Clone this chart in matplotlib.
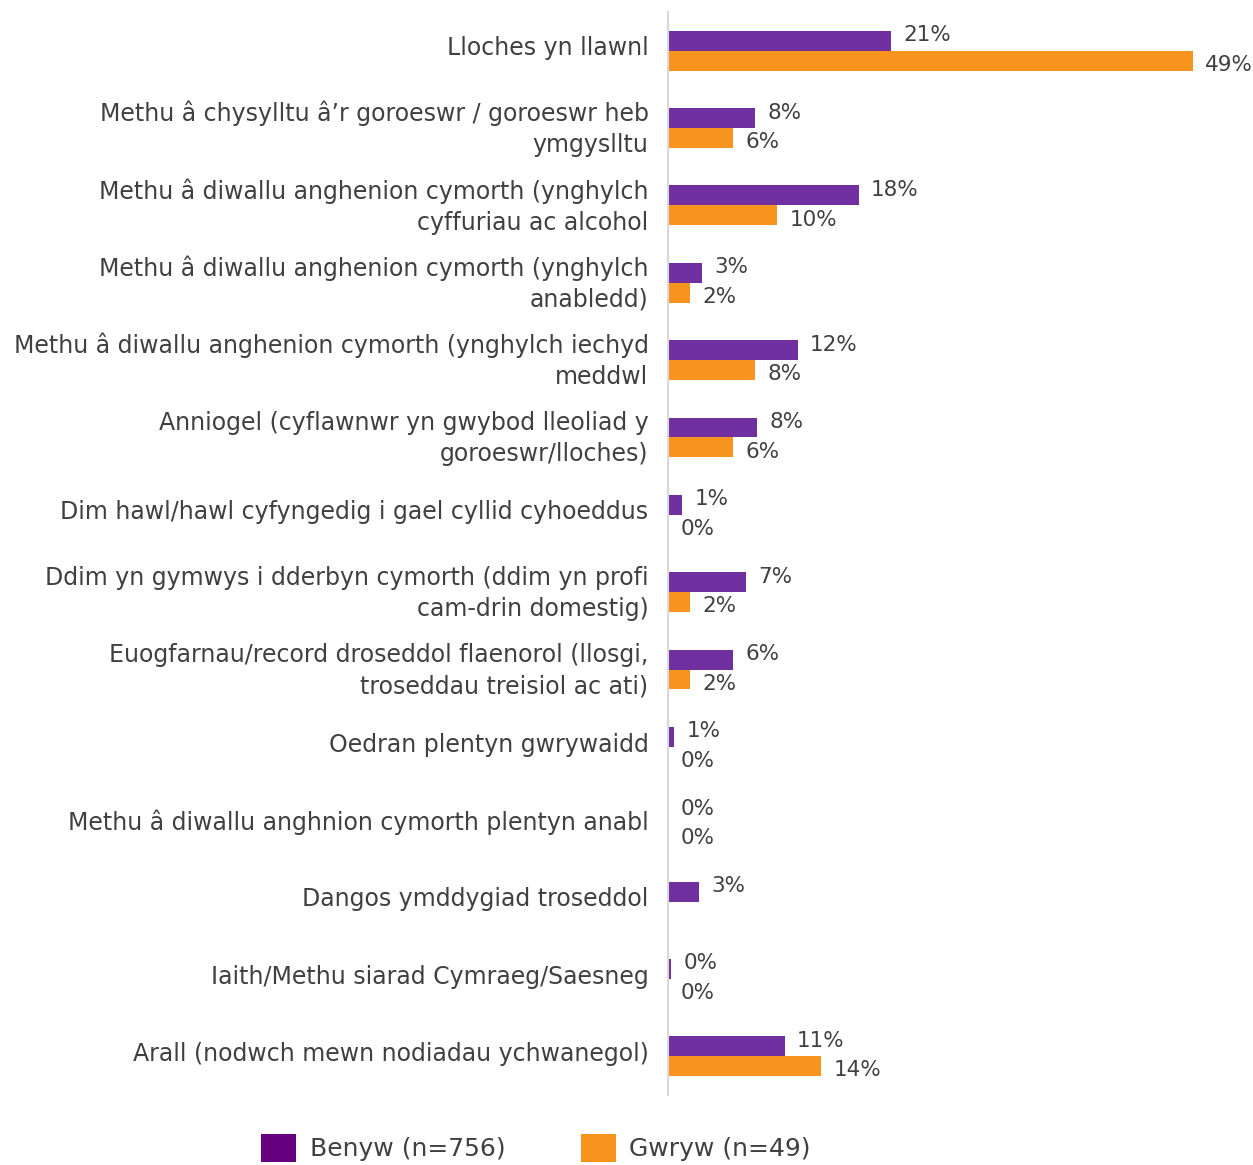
import numpy as np
import matplotlib
matplotlib.use("Agg")
import matplotlib.pyplot as plt
import matplotlib.transforms as mtransforms
from matplotlib.patches import Patch

categories = [
    "Lloches yn llawnl",
    "Methu â chysylltu â’r goroeswr / goroeswr heb\nymgyslltu",
    "Methu â diwallu anghenion cymorth (ynghylch\ncyffuriau ac alcohol",
    "Methu â diwallu anghenion cymorth (ynghylch\nanabledd)",
    "Methu â diwallu anghenion cymorth (ynghylch iechyd\nmeddwl",
    "Anniogel (cyflawnwr yn gwybod lleoliad y\ngoroeswr/lloches)",
    "Dim hawl/hawl cyfyngedig i gael cyllid cyhoeddus",
    "Ddim yn gymwys i dderbyn cymorth (ddim yn profi\ncam-drin domestig)",
    "Euogfarnau/record droseddol flaenorol (llosgi,\ntroseddau treisiol ac ati)",
    "Oedran plentyn gwrywaidd",
    "Methu â diwallu anghnion cymorth plentyn anabl",
    "Dangos ymddygiad troseddol",
    "Iaith/Methu siarad Cymraeg/Saesneg",
    "Arall (nodwch mewn nodiadau ychwanegol)",
]
benyw = [20.8, 8.1, 17.8, 3.2, 12.1, 8.3, 1.3, 7.3, 6.1, 0.6, 0.0, 2.9, 0.3, 10.9]
gwryw = [49.0, 6.1, 10.2, 2.05, 8.1, 6.1, 0.0, 2.05, 2.05, 0.0, 0.0, np.nan, 0.0, 14.3]
series_names = ["Benyw (n=756)", "Gwryw (n=49)"]

purple = "#7030A0"
purple_leg = "#660080"
orange = "#F7941D"
text_c = "#404040"

plt.rcParams['font.family'] = ['DejaVu Sans']

W, H = 1253, 1165
fig = plt.figure(figsize=(W / 100, H / 100), dpi=100)
ax_l, ax_r, ax_t, ax_b = 668, 1230, 12, 1095
ax = fig.add_axes([ax_l / W, 1 - ax_b / H, (ax_r - ax_l) / W, (ax_b - ax_t) / H])

n = len(categories)
y = np.arange(n)
bh = 0.258
ax.barh(y - bh / 2, benyw, height=bh, color=purple, label=series_names[0])
ax.barh(y + bh / 2, gwryw, height=bh, color=orange, label=series_names[1])

ax.set_xlim(0, 52.5)
ax.set_ylim(n - 0.5, -0.5)

for vals, off, dy in ((benyw, -bh / 2, 4), (gwryw, bh / 2, -3)):
    for yi, v in zip(y, vals):
        if v is None or np.isnan(v):
            continue
        ax.annotate(f"{round(v)}%", xy=(v, yi + off), xytext=(9, dy),
                    textcoords="offset points", va="center", ha="left",
                    fontsize=15.5, color=text_c)

ax.set_yticks(y)
ax.set_yticklabels(categories, fontsize=17, color=text_c, linespacing=1.36)
ax.tick_params(axis='y', length=0, pad=14)
shift = mtransforms.ScaledTranslation(0, 3.5 / 72, fig.dpi_scale_trans)
for lab in ax.get_yticklabels():
    lab.set_transform(lab.get_transform() + shift)
ax.set_xticks([])
for s in ("top", "right", "bottom"):
    ax.spines[s].set_visible(False)
ax.spines["left"].set_color("#D9D9D9")
ax.spines["left"].set_linewidth(1.5)

handles = [Patch(facecolor=purple_leg, label=series_names[0]),
           Patch(facecolor=orange, label=series_names[1])]
fig.legend(handles=handles, loc="center", bbox_to_anchor=(536 / W, 1 - 1148 / H),
           ncol=2, frameon=False, fontsize=18, handlelength=1.4, handleheight=1.4,
           columnspacing=3.0, handletextpad=0.55, labelcolor=text_c)

fig.savefig("out.png", dpi=100)
